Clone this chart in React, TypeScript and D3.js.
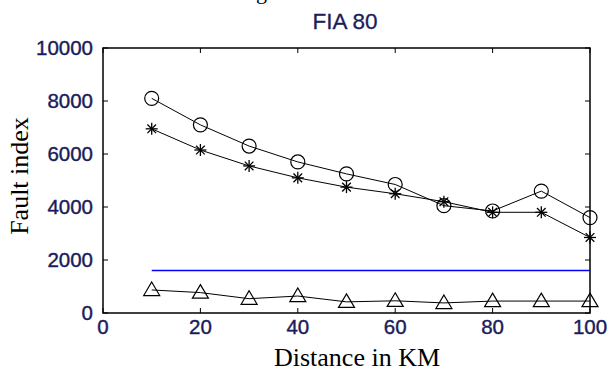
import React from "react";
import * as d3 from "d3";

const distances = [10, 20, 30, 40, 50, 60, 70, 80, 90, 100];
const circleSeries = [8100, 7100, 6300, 5700, 5250, 4850, 4050, 3850, 4600, 3600];
const starSeries = [6950, 6150, 5550, 5100, 4750, 4500, 4200, 3800, 3800, 2850];
const triangleSeries = [870, 770, 540, 640, 420, 460, 380, 450, 450, 450];
const thresholdValue = 1600;
const xTicks = [0, 20, 40, 60, 80, 100];
const yTicks = [0, 2000, 4000, 6000, 8000, 10000];

const W = 609;
const H = 374;
const M = { left: 103, right: 590, top: 48, bottom: 313 };
const tickColor = "#1c1c5a";
const sans = "Liberation Sans, Arial, sans-serif";
const serif = "Liberation Serif, 'Times New Roman', serif";

export default function App() {
  const x = d3.scaleLinear().domain([0, 100]).range([M.left, M.right]);
  const y = d3.scaleLinear().domain([0, 10000]).range([M.bottom, M.top]);
  const line = d3
    .line<[number, number]>()
    .x((d) => x(d[0]))
    .y((d) => y(d[1]));
  const pts = (s: number[]) => distances.map((d, i) => [d, s[i]] as [number, number]);

  const star = (cx: number, cy: number, k: number) => {
    const r = 6;
    const r2 = r * 0.72;
    return (
      <g key={k} stroke="#000" strokeWidth={1.3}>
        <line x1={cx - r} y1={cy} x2={cx + r} y2={cy} />
        <line x1={cx} y1={cy - r} x2={cx} y2={cy + r} />
        <line x1={cx - r2} y1={cy - r2} x2={cx + r2} y2={cy + r2} />
        <line x1={cx - r2} y1={cy + r2} x2={cx + r2} y2={cy - r2} />
      </g>
    );
  };
  const tri = (cx: number, cy: number, k: number) => {
    const s = 8;
    return (
      <path
        key={k}
        d={`M${cx},${cy - s}L${cx + s},${cy + s * 0.7}L${cx - s},${cy + s * 0.7}Z`}
        fill="none"
        stroke="#000"
        strokeWidth={1.2}
      />
    );
  };

  return (
    <svg width={W} height={H} style={{ position: "absolute", left: 0, top: 0 }}>
      <rect x={0} y={0} width={W} height={H} fill="#fff" />
      <text x={256} y={-1} fontFamily={serif} fontSize={22} fill="#000">
        g
      </text>
      <text
        x={345}
        y={29}
        textAnchor="middle"
        fontFamily={sans}
        fontSize={22.5}
        fill={tickColor}
        stroke={tickColor}
        strokeWidth={0.3}
      >
        FIA 80
      </text>
      {/* box */}
      <rect
        x={M.left}
        y={M.top}
        width={M.right - M.left}
        height={M.bottom - M.top}
        fill="none"
        stroke="#000"
        strokeWidth={1.5}
      />
      {xTicks.map((t) => (
        <g key={"xt" + t}>
          <line x1={x(t)} x2={x(t)} y1={M.bottom} y2={M.bottom - 5} stroke="#000" />
          <line x1={x(t)} x2={x(t)} y1={M.top} y2={M.top + 5} stroke="#000" />
          <text
            x={x(t)}
            y={M.bottom + 21}
            textAnchor="middle"
            fontFamily={sans}
            fontSize={20.5}
            fill={tickColor}
            stroke={tickColor}
            strokeWidth={0.4}
          >
            {t}
          </text>
        </g>
      ))}
      {yTicks.map((t) => (
        <g key={"yt" + t}>
          <line x1={M.left} x2={M.left + 5} y1={y(t)} y2={y(t)} stroke="#000" />
          <line x1={M.right} x2={M.right - 5} y1={y(t)} y2={y(t)} stroke="#000" />
          <text
            x={M.left - 10}
            y={y(t) + 7}
            textAnchor="end"
            fontFamily={sans}
            fontSize={20.5}
            fill={tickColor}
            stroke={tickColor}
            strokeWidth={0.4}
          >
            {t}
          </text>
        </g>
      ))}
      <text x={357} y={366} textAnchor="middle" fontFamily={serif} fontSize={26} fill="#000">
        Distance in KM
      </text>
      <text
        transform={`translate(28,176) rotate(-90)`}
        textAnchor="middle"
        fontFamily={serif}
        fontSize={26}
        fill="#000"
      >
        Fault index
      </text>
      {/* threshold */}
      <line
        x1={x(10)}
        x2={x(100)}
        y1={y(thresholdValue)}
        y2={y(thresholdValue)}
        stroke="#0000ff"
        strokeWidth={1.5}
      />
      <path d={line(pts(circleSeries)) || ""} fill="none" stroke="#000" strokeWidth={1} />
      <path d={line(pts(starSeries)) || ""} fill="none" stroke="#000" strokeWidth={1} />
      <path d={line(pts(triangleSeries)) || ""} fill="none" stroke="#000" strokeWidth={1} />
      {distances.map((d, i) => (
        <circle key={"c" + i} cx={x(d)} cy={y(circleSeries[i])} r={7} fill="none" stroke="#000" strokeWidth={1.2} />
      ))}
      {distances.map((d, i) => star(x(d), y(starSeries[i]), i))}
      {distances.map((d, i) => tri(x(d), y(triangleSeries[i]), i))}
    </svg>
  );
}
